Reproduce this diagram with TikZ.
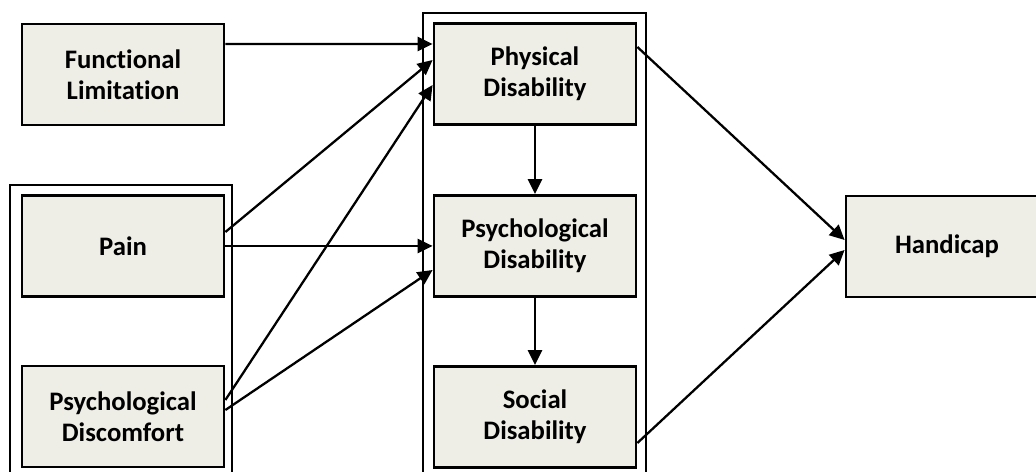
\documentclass[tikz,border=0pt]{standalone}
\usepackage{fontspec}
\setmainfont[Ligatures=NoCommon]{Carlito}
\usetikzlibrary{arrows.meta}
\definecolor{boxfill}{RGB}{239,238,230}

\begin{document}
\begin{tikzpicture}[x=0.02cm,y=-0.02cm,>={Triangle[length=8.5pt,width=8pt]},
	box/.style={draw,line width=1.6pt,fill=boxfill,minimum width=4.04cm,minimum height=2.02cm,
		inner sep=0pt,align=center,font=\fontsize{15.2}{17.6}\selectfont\bfseries},
	group/.style={draw,line width=1pt},
	link/.style={->,line width=1.3pt}]
	\useasboundingbox (0,0) rectangle (1036,472);
	\clip (0,0) rectangle (1036,472);
	\draw[group] (10,185) rectangle (232,490);
	\draw[group] (423,13) rectangle (646,490);
	\node[box] (func)  at (123,74.5)  {Functional\\Limitation};
	\node[box] (pain)  at (123,246)   {Pain};
	\node[box] (pdisc) at (123,416.5) {Psychological\\Discomfort};
	\node[box] (phys)  at (535,74)    {Physical\\Disability};
	\node[box] (psyd)  at (535,246)   {Psychological\\Disability};
	\node[box] (soc)   at (535,417)   {Social\\Disability};
	\node[box] (hand)  at (947,246.5) {Handicap};
	
	\path[link]
	([yshift=0.61cm]func.east) edge ([yshift=0.6cm]phys.west)
	([yshift=0.28cm]pain.east) edge ([yshift=0.28cm]phys.west)
	(pain.east) edge (psyd.west)
	([yshift=0.33cm]pdisc.east) edge ([yshift=-0.22cm]phys.west)
	([yshift=0.13cm]pdisc.east) edge ([yshift=-0.48cm]psyd.west)
	(phys.south) edge (psyd.north)
	(psyd.south) edge (soc.north)
	([yshift=0.54cm]phys.east) edge ([yshift=0.13cm]hand.west)
	([yshift=-0.52cm]soc.east) edge ([yshift=-0.07cm]hand.west);
\end{tikzpicture}
\end{document}
